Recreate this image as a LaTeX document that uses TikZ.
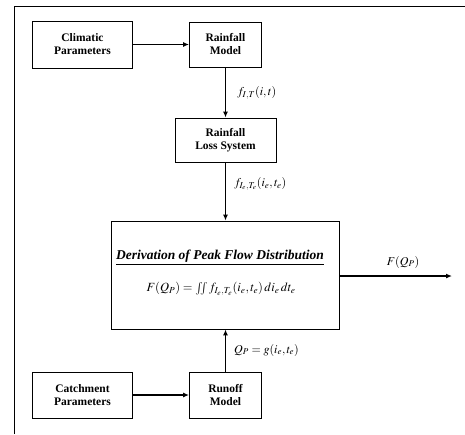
\documentclass[tikz,border=0pt]{standalone}
\usepackage{amsmath}
\usepackage[no-math]{fontspec}
\usepackage{mathptmx}
\setmainfont{Liberation Serif}
\usetikzlibrary{arrows.meta}
\begin{document}
\begin{tikzpicture}[x=1pt,y=-1pt,
  box/.style={draw, line width=0.9pt, align=center, font=\bfseries\fontsize{11.5}{13}\selectfont, inner sep=0pt},
  conn/.style={line width=1.2pt, -{Latex[length=6pt,width=5pt]}},
  lab/.style={font=\fontsize{12}{14}\selectfont, anchor=west, inner sep=0pt}]
\useasboundingbox (0,0) rectangle (465,434);
% frame
\draw[line width=0.8pt] (14,434) -- (14,6) -- (375,6);
\draw[line width=1.8pt] (375,6.5) -- (465,6.5);
% boxes
\node[box, minimum width=100pt, minimum height=47pt] (clim) at (82.5,44.5) {Climatic\\Parameters};
\node[box, minimum width=72pt, minimum height=45pt] (rmodel) at (225.5,44.5) {Rainfall\\Model};
\node[box, minimum width=101pt, minimum height=44pt] (loss) at (225.5,140) {Rainfall\\Loss System};
\node[box, minimum width=228pt, minimum height=108pt] (main) at (225.5,275) {};
\node[font=\bfseries\itshape\fontsize{13.5}{15}\selectfont, inner sep=0pt] (title) at (220,258) {\underline{Derivation of Peak Flow Distribution}};
\node[font=\fontsize{12.5}{14}\selectfont, inner sep=0pt] (formula) at (221,289) {$F(Q_P)=\iint f_{I_e,T_e}(i_e,t_e)\,di_e\,dt_e$};
\node[box, minimum width=72pt, minimum height=46pt] (runoff) at (225.5,395) {Runoff\\Model};
\node[box, minimum width=100pt, minimum height=46pt] (catch) at (82.5,395) {Catchment\\Parameters};
\coordinate (out) at (452,276);
% connectors
\draw[conn] (clim) -- (rmodel);
\draw[conn] (rmodel) -- (loss);
\draw[conn] (loss) -- (main);
\draw[conn] (catch) -- (runoff);
\draw[conn] (runoff) -- (main);
\draw[conn] (main.east |- out) -- (out);
% labels
\node[lab] (l1) at (237,93) {$f_{I,T}(i,t)$};
\node[lab] (l2) at (234,184) {$f_{I_e,T_e}(i_e,t_e)$};
\node[lab] (l3) at (234,350) {$Q_P=g(i_e,t_e)$};
\node[lab, anchor=center] (l4) at (403,262) {$F(Q_P)$};
\end{tikzpicture}
\end{document}
